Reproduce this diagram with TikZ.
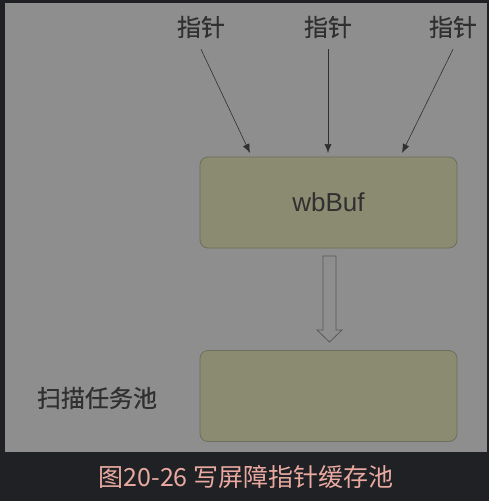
\documentclass[tikz,border=0pt]{standalone}
\usepackage{fontspec}
\setmainfont{Liberation Sans}
\newfontfamily\cjk{Noto Sans CJK SC}
\newfontfamily\cjkheavy[FakeBold=0.6]{Noto Sans CJK SC}
\usetikzlibrary{arrows.meta}

\definecolor{pagebg}{HTML}{202124}
\definecolor{panelbg}{HTML}{8E8E8E}
\definecolor{buffill}{HTML}{8B8B72}
\definecolor{bufline}{HTML}{6E6E5C}
\definecolor{inkgray}{HTML}{303030}
\definecolor{captionpink}{HTML}{E9A9A1}

\tikzset{
  bufbox/.style={draw=bufline, fill=buffill, rounded corners=8pt, line width=0.8pt,
    minimum width=257pt, minimum height=91pt, text=inkgray, font=\fontsize{26}{30}\selectfont},
  cjklabel/.style={text=inkgray, font=\cjkheavy\fontsize{24}{28}\selectfont, inner sep=0pt},
  ptrarrow/.style={-{Latex[length=9pt,width=7pt]}, draw=inkgray, line width=0.6pt},
}

\begin{document}
\begin{tikzpicture}[x=1pt, y=-1pt]
    % background and panel
    \fill [pagebg]      (0, 0) rectangle (489, 501);
    \fill [panelbg]     (5, 3) rectangle (487, 452);
    % buffers
    \node [bufbox] (wb)   at (328.5, 202.5) {wbBuf};
    \node [bufbox] (pool) at (328.5, 396) {};
    \node [cjklabel] (poollabel) at (97, 398) {扫描任务池};
    % pointers
    \node [cjklabel] (p1) at (201, 27) {指针};
    \node [cjklabel] (p2) at (328, 27) {指针};
    \node [cjklabel] (p3) at (453, 27) {指针};
    \coordinate (e1) at (250, 153);
    \coordinate (e2) at (328, 153);
    \coordinate (e3) at (402, 153);
    \draw [ptrarrow] ([yshift=-11pt]p1.south) -- (e1);
    \draw [ptrarrow] ([yshift=-11pt]p2.south) -- (e2);
    \draw [ptrarrow] ([yshift=-11pt]p3.south) -- (e3);
    % hollow arrow wbBuf -> pool
    \draw [draw=inkgray!80, line width=0.8pt]
        (323, 256) -- (336, 256) -- (336, 330) -- (342, 330) -- (329.5, 342)
        -- (317, 330) -- (323, 330) -- cycle;
    % caption
    \node [text=captionpink, font=\cjk\fontsize{25}{29}\selectfont] (caption) at (246, 477)
        {图20-26 写屏障指针缓存池};
\end{tikzpicture}
\end{document}
